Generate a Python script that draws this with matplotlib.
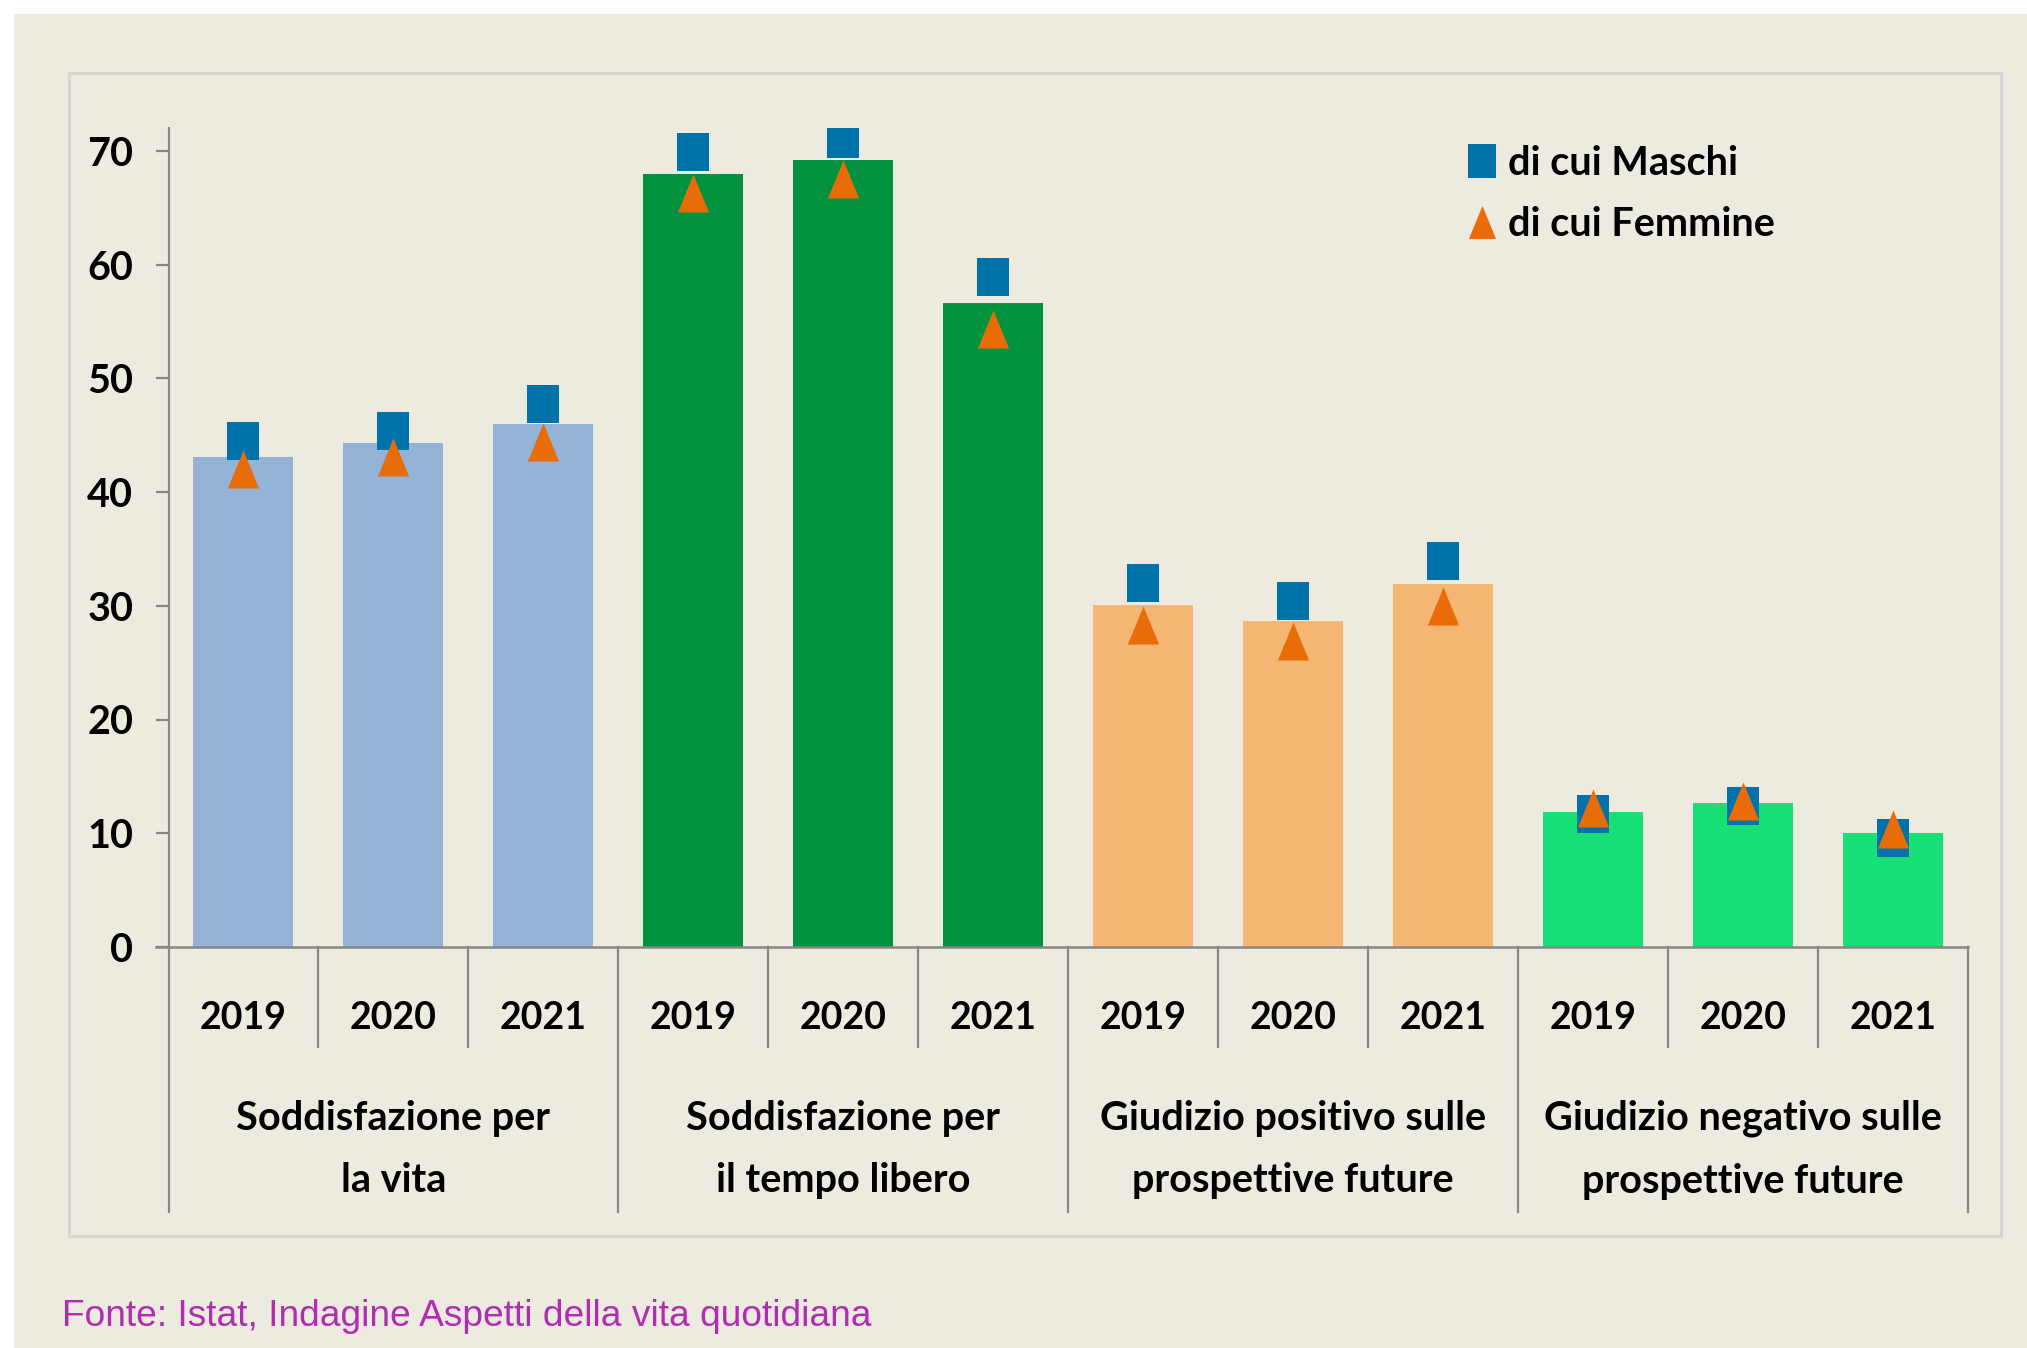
# Soddisfazione e giudizi sulle prospettive future, 2019-2021
import matplotlib.pyplot as plt
from matplotlib.patches import Rectangle

# -----------------
# DATA
years = ["2019", "2020", "2021"]
groups = ["Soddisfazione per\nla vita",
          "Soddisfazione per\nil tempo libero",
          "Giudizio positivo sulle\nprospettive future",
          "Giudizio negativo sulle\nprospettive future"]
totale = [43.1, 44.3, 46.0, 68.0, 69.2, 56.6, 30.1, 28.7, 31.9, 11.9, 12.7, 10.0]
maschi = [44.5, 45.4, 47.7, 69.9, 71.0, 58.9, 32.0, 30.4, 33.9, 11.7, 12.4, 9.6]
femmine = [42.0, 43.1, 44.4, 66.3, 67.5, 54.3, 28.3, 26.9, 30.0, 12.2, 12.8, 10.4]
yticks = [0, 10, 20, 30, 40, 50, 60, 70]
source = "Fonte: Istat, Indagine Aspetti della vita quotidiana"
# -----------------

group_colors = ["#95B3D7", "#00923F", "#F5B673", "#17E077"]
bg = "#EDEBE0"
grey = "#878787"
fnt = ["Lato", "DejaVu Sans"]
fs = 28.5   # labels
fs_year = 27

W, H = 2027, 1348
fig = plt.figure(figsize=(W / 100, H / 100), dpi=100)
fig.patch.set_facecolor("white")

# beige panel and inner frame (behind the axes)
fig.patches.append(Rectangle((14 / W, 0), 1, 1 - 14 / H, transform=fig.transFigure,
                             facecolor=bg, edgecolor="none", zorder=-2))
fig.patches.append(Rectangle((69 / W, 1 - 1236 / H), (2001 - 69) / W, (1236 - 73) / H,
                             transform=fig.transFigure, facecolor="none",
                             edgecolor="#D6D6D6", linewidth=2.2, zorder=-1))

ax = fig.add_axes([168.5 / W, 1 - 947 / H, (1968 - 168.5) / W, (947 - 128) / H])
ax.set_facecolor("none")

n = len(totale)
xs = list(range(n))
bar_colors = [group_colors[i // len(years)] for i in xs]
ax.bar(xs, totale, width=0.667, color=bar_colors, zorder=2)

sq = [(-0.41, -0.5), (0.41, -0.5), (0.41, 0.5), (-0.41, 0.5), (-0.41, -0.5)]
tri = [(0, 0.5), (-0.41, -0.5), (0.41, -0.5), (0, 0.5)]
ax.plot(xs, maschi, linestyle="none", marker=sq, markersize=27.4,
        color="#0072AA", markeredgewidth=0, zorder=3, label="di cui Maschi")
ax.plot(xs, femmine, linestyle="none", marker=tri, markersize=27.4,
        color="#E86C07", markeredgewidth=0, zorder=4, label="di cui Femmine")

ax.set_xlim(-0.5, n - 0.5)
ax.set_ylim(0, 72)
ax.set_yticks(yticks)
ax.set_yticklabels([str(v) for v in yticks], fontsize=fs, fontweight="bold", family=fnt)
ax.tick_params(axis="y", length=9.4, width=1.6, color=grey, pad=16)
ax.set_xticks([])

for s in ["top", "right", "bottom"]:
    ax.spines[s].set_visible(False)
ax.spines["left"].set_color(grey)
ax.spines["left"].set_linewidth(1.6)

# x axis line, separators and category labels
trans = ax.get_xaxis_transform()
ax.plot([-0.585, n - 0.5], [0, 0], color=grey, linewidth=1.8, transform=trans,
        clip_on=False, zorder=5)
for k in range(n + 1):
    bottom = -0.3232 if k % len(years) == 0 else -0.1217
    ax.plot([k - 0.5, k - 0.5], [0, bottom], color=grey, linewidth=1.6,
            transform=trans, clip_on=False)
for i in xs:
    ax.text(i, -0.087, years[i % len(years)], transform=trans, ha="center",
            va="center", fontsize=fs_year, fontweight="bold", family=fnt)
for g, name in enumerate(groups):
    ax.text(g * len(years) + 1, -0.2475, name, transform=trans, ha="center",
            va="center", fontsize=fs, fontweight="bold", family=fnt, linespacing=1.85)

leg = ax.legend(loc="upper left", bbox_to_anchor=(1464 / W, 1 - 145 / H),
                bbox_transform=fig.transFigure, frameon=False, borderpad=0,
                borderaxespad=0, handlelength=0.9, handletextpad=0.2,
                labelspacing=0.6, markerscale=0.87,
                prop={"family": fnt, "weight": "bold", "size": fs})

fig.text(62 / W, 1 - 1316 / H, source, color="#B02CB0", fontsize=26.7,
         family="Liberation Sans", ha="left", va="center")

plt.savefig("out.png", dpi=100, facecolor=fig.get_facecolor())
